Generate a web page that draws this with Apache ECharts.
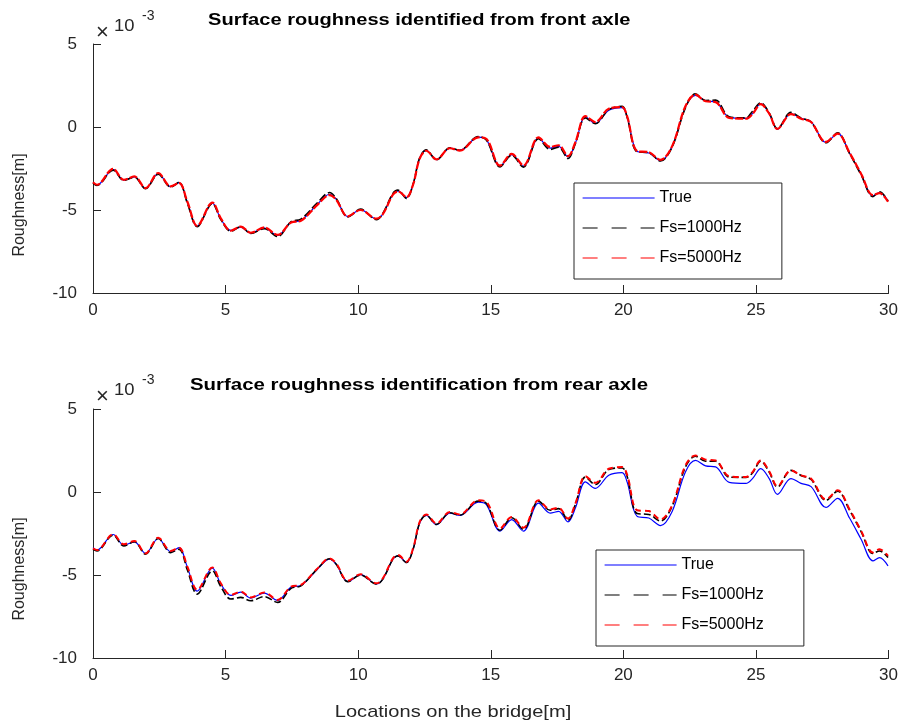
<!DOCTYPE html>
<html>
<head>
<meta charset="utf-8">
<script src="https://cdn.jsdelivr.net/npm/echarts@6/dist/echarts.min.js"></script>
<style>html,body{margin:0;padding:0;background:#fff}#c{width:901px;height:728px}</style>
</head>
<body>
<div id="c"></div>
<script>
// Locations on the bridge [m]
const xLoc = [0, 0.15, 0.76, 1.16, 1.56, 1.98, 2.46, 2.93, 3.24, 3.56, 3.93, 4.5, 4.82, 5.2, 5.57, 5.95, 6.46, 6.96, 7.47, 7.84, 8.47, 8.92, 9.17, 9.61, 10.09, 10.69, 10.93, 11.31, 11.5, 11.82, 12.07, 12.32, 12.57, 12.95, 13.46, 13.83, 14.53, 14.84, 15.35, 15.79, 16.23, 16.8, 17.24, 17.56, 17.91, 18.19, 18.57, 18.94, 19.45, 19.95, 20.14, 20.52, 20.96, 21.4, 21.84, 22.34, 22.72, 23.1, 23.48, 23.99, 24.62, 24.87, 25.18, 25.5, 25.81, 26.32, 26.7, 27.08, 27.64, 28.08, 28.53, 28.97, 29.41, 29.66, 29.98];
// Roughness values (x 10^-3 m)
const trueRough = [-3.35, -3.5, -2.56, -3.2, -3.0, -3.7, -2.8, -3.6, -3.35, -4.54, -5.97, -4.58, -5.54, -6.23, -6.03, -6.39, -6.09, -6.53, -5.73, -5.63, -4.64, -4.05, -4.35, -5.4, -4.98, -5.54, -5.24, -4.05, -3.85, -4.25, -3.45, -1.87, -1.41, -1.96, -1.27, -1.41, -0.61, -0.77, -2.36, -1.67, -2.36, -0.67, -1.27, -1.17, -1.8, -0.97, 0.61, 0.22, 1.01, 1.17, 0.61, -1.47, -1.57, -2.02, -1.17, 1.21, 1.9, 1.57, 1.51, 0.58, 0.52, 0.81, 1.41, 0.81, -0.14, 0.81, 0.52, 0.32, -0.93, -0.38, -1.57, -2.86, -4.15, -3.95, -4.45];
const frontFs1000 = [-3.38, -3.52, -2.6, -3.22, -3.02, -3.72, -2.85, -3.62, -3.33, -4.6, -6.0, -4.62, -5.58, -6.28, -6.0, -6.42, -6.12, -6.6, -5.7, -5.55, -4.55, -3.95, -4.3, -5.42, -4.95, -5.58, -5.2, -4.0, -3.8, -4.3, -3.45, -1.85, -1.38, -1.98, -1.25, -1.4, -0.58, -0.8, -2.4, -1.7, -2.42, -0.7, -1.35, -1.22, -1.9, -1.0, 0.55, 0.2, 1.05, 1.25, 0.6, -1.5, -1.55, -2.05, -1.2, 1.15, 2.0, 1.6, 1.62, 0.62, 0.55, 0.95, 1.45, 0.85, -0.1, 0.88, 0.55, 0.3, -0.95, -0.35, -1.6, -2.9, -4.2, -3.9, -4.45];
const frontFs5000 = [-3.33, -3.48, -2.52, -3.18, -2.98, -3.68, -2.77, -3.58, -3.37, -4.5, -5.95, -4.55, -5.5, -6.25, -6.0, -6.37, -6.05, -6.5, -5.75, -5.65, -4.68, -4.1, -4.38, -5.38, -5.0, -5.52, -5.25, -4.08, -3.88, -4.22, -3.47, -1.9, -1.43, -1.95, -1.28, -1.42, -0.62, -0.72, -2.33, -1.62, -2.32, -0.62, -1.2, -1.1, -1.75, -0.92, 0.65, 0.3, 1.1, 1.2, 0.65, -1.45, -1.52, -1.98, -1.15, 1.25, 1.95, 1.55, 1.5, 0.55, 0.5, 0.78, 1.38, 0.8, -0.12, 0.78, 0.5, 0.3, -0.9, -0.4, -1.55, -2.83, -4.1, -3.98, -4.5];
const rearFs1000 = [-3.45, -3.55, -2.6, -3.25, -3.0, -3.75, -2.8, -3.65, -3.45, -4.7, -6.15, -4.75, -5.7, -6.45, -6.35, -6.55, -6.3, -6.65, -5.8, -5.65, -4.62, -4.02, -4.35, -5.4, -5.0, -5.55, -5.25, -4.05, -3.85, -4.25, -3.45, -1.85, -1.4, -1.95, -1.25, -1.4, -0.55, -0.7, -2.3, -1.55, -2.25, -0.55, -1.1, -1.0, -1.7, -0.75, 0.9, 0.45, 1.35, 1.45, 0.95, -1.3, -1.35, -1.75, -0.85, 1.5, 2.15, 1.85, 1.85, 0.9, 0.88, 1.15, 1.85, 1.2, 0.3, 1.3, 1.0, 0.75, -0.5, 0.05, -1.1, -2.4, -3.7, -3.55, -3.95];
const rearFs5000 = [-3.4, -3.5, -2.55, -3.15, -2.95, -3.7, -2.75, -3.55, -3.35, -4.5, -5.9, -4.55, -5.5, -6.2, -6.0, -6.35, -6.05, -6.5, -5.7, -5.6, -4.6, -4.0, -4.3, -5.35, -4.95, -5.5, -5.2, -4.0, -3.8, -4.2, -3.4, -1.8, -1.35, -1.9, -1.2, -1.35, -0.5, -0.6, -2.2, -1.5, -2.15, -0.5, -1.05, -0.95, -1.6, -0.7, 0.95, 0.55, 1.4, 1.5, 1.05, -1.1, -1.15, -1.65, -0.8, 1.6, 2.2, 1.95, 1.9, 0.95, 0.9, 1.2, 1.9, 1.25, 0.35, 1.3, 1.0, 0.8, -0.45, 0.1, -1.05, -2.35, -3.65, -3.45, -3.85];
const xTicks = [0, 5, 10, 15, 20, 25, 30];
const yTicks = [-10, -5, 0, 5];
const seriesNames = ['True', 'Fs=1000Hz', 'Fs=5000Hz'];

const FONT = '"Liberation Sans", Arial, Helvetica, sans-serif';
const AX = '#262626';
const pairs = ys => xLoc.map((x, i) => [x, ys[i]]);

function xAxis(idx) {
  return {
    type: 'value', gridIndex: idx, min: xTicks[0], max: xTicks[xTicks.length - 1], interval: 5,
    axisLine: { onZero: false, lineStyle: { color: AX, width: 1 } },
    axisTick: { inside: true, length: 8, lineStyle: { color: AX } },
    axisLabel: { color: AX, fontSize: 17, fontFamily: FONT, margin: 9 },
    splitLine: { show: false }
  };
}
function yAxis(idx) {
  return {
    type: 'value', gridIndex: idx, min: yTicks[0], max: yTicks[yTicks.length - 1], interval: 5,
    axisLine: { show: true, onZero: false, lineStyle: { color: AX, width: 1 } },
    axisTick: { show: true, inside: true, length: 8, lineStyle: { color: AX } },
    axisLabel: { color: AX, fontSize: 17, fontFamily: FONT, margin: 16 },
    splitLine: { show: false }
  };
}
function line(name, data, idx, color, dash, width, z) {
  return {
    name, type: 'line', xAxisIndex: idx, yAxisIndex: idx, data: pairs(data),
    symbol: 'none', smooth: 0.35, z,
    lineStyle: { color, width, type: dash },
    itemStyle: { color },
    animation: false
  };
}
function legend(left, top) {
  const hidden = { opacity: 0, borderWidth: 0 };
  return {
    orient: 'vertical', left, top,
    itemWidth: 72, itemHeight: 14, itemGap: 14,
    padding: [7, 40, 13, 8],
    borderColor: AX, borderWidth: 1, backgroundColor: '#fff',
    selectedMode: false,
    itemStyle: hidden,
    textStyle: { color: '#000', fontSize: 16, fontFamily: FONT },
    data: [
      { name: seriesNames[0], itemStyle: hidden, lineStyle: { color: '#0000ff', width: 1.2, type: 'solid' } },
      { name: seriesNames[1], itemStyle: hidden, lineStyle: { color: '#000', width: 1.2, type: [15, 14] } },
      { name: seriesNames[2], itemStyle: hidden, lineStyle: { color: '#ff0000', width: 1.2, type: [15, 14] } }
    ]
  };
}

const chart = echarts.init(document.getElementById('c'), null, { renderer: 'canvas' });
chart.setOption({
  backgroundColor: '#fff',
  animation: false,
  textStyle: { fontFamily: FONT },
  grid: [
    { left: 93, top: 44, width: 796, height: 249, containLabel: false },
    { left: 93, top: 409, width: 796, height: 249, containLabel: false }
  ],
  xAxis: [xAxis(0), xAxis(1)],
  yAxis: [yAxis(0), yAxis(1)],
  legend: [legend(574, 183), legend(596, 550)],
  series: [
    line(seriesNames[0], trueRough, 0, '#0000ff', 'solid', 1.2, 2),
    line(seriesNames[1], frontFs1000, 0, '#000000', [8, 3], 1.6, 3),
    line(seriesNames[2], frontFs5000, 0, '#ff0000', [8, 2], 2.2, 4),
    line(seriesNames[0], trueRough, 1, '#0000ff', 'solid', 1.2, 2),
    line(seriesNames[1], rearFs1000, 1, '#000000', [7, 3], 1.6, 3),
    line(seriesNames[2], rearFs5000, 1, '#ff0000', [6, 4], 2, 4)
  ],
  graphic: [
    { type: 'text', x: 208, y: 20, scaleX: 1.18,
      style: { text: 'Surface roughness identified from front axle', fontSize: 17, fontWeight: 'bold', fill: '#000', fontFamily: FONT, verticalAlign: 'middle' } },
    { type: 'text', x: 190, y: 385, scaleX: 1.2,
      style: { text: 'Surface roughness identification from rear axle', fontSize: 17, fontWeight: 'bold', fill: '#000', fontFamily: FONT, verticalAlign: 'middle' } },
    { type: 'text', x: 96, y: 22, style: { text: '×', fontSize: 22, fill: AX, fontFamily: FONT } },
    { type: 'text', x: 114, y: 19, scaleX: 1.15, style: { text: '10', fontSize: 16, fill: AX, fontFamily: FONT } },
    { type: 'text', x: 142, y: 9, style: { text: '-3', fontSize: 14, fill: AX, fontFamily: FONT } },
    { type: 'text', x: 96, y: 386, style: { text: '×', fontSize: 22, fill: AX, fontFamily: FONT } },
    { type: 'text', x: 114, y: 383, scaleX: 1.15, style: { text: '10', fontSize: 16, fill: AX, fontFamily: FONT } },
    { type: 'text', x: 142, y: 373, style: { text: '-3', fontSize: 14, fill: AX, fontFamily: FONT } },
    { type: 'text', x: 20, y: 205, rotation: Math.PI / 2,
      style: { text: 'Roughness[m]', fontSize: 16, fill: AX, fontFamily: FONT, align: 'center', verticalAlign: 'middle' } },
    { type: 'text', x: 20, y: 569, rotation: Math.PI / 2,
      style: { text: 'Roughness[m]', fontSize: 16, fill: AX, fontFamily: FONT, align: 'center', verticalAlign: 'middle' } },
    { type: 'text', x: 453, y: 712, scaleX: 1.18, originX: 0,
      style: { text: 'Locations on the bridge[m]', fontSize: 17, fill: AX, fontFamily: FONT, align: 'center', verticalAlign: 'middle' } }
  ]
});
</script>
</body>
</html>
